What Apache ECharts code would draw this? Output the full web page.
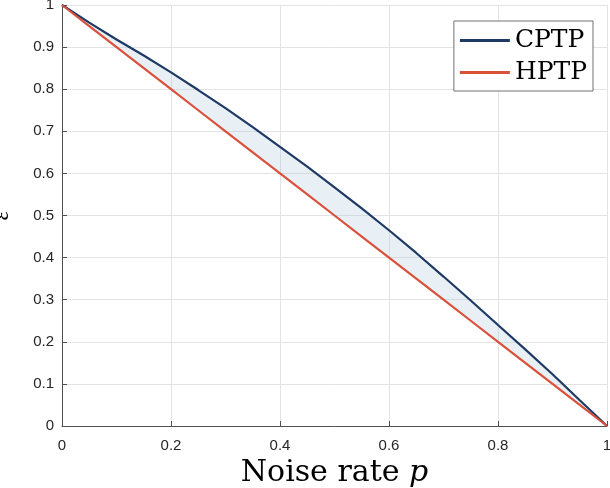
<!DOCTYPE html>
<html>
<head>
<meta charset="utf-8">
<script src="https://cdn.jsdelivr.net/npm/echarts@6/dist/echarts.min.js"></script>
<style>
html,body{margin:0;padding:0;background:#fff;}
#chart{width:610px;height:488px;}
</style>
</head>
<body>
<div id="chart"></div>
<script>
var pValues = [0, 0.05, 0.1, 0.15, 0.2, 0.25, 0.3, 0.35, 0.4, 0.45, 0.5, 0.55, 0.6, 0.65, 0.7, 0.75, 0.8, 0.85, 0.9, 0.95, 1];
var cptp = [1, 0.958, 0.918, 0.88, 0.84, 0.798, 0.755, 0.71, 0.663, 0.616, 0.567, 0.517, 0.465, 0.411, 0.355, 0.298, 0.24, 0.182, 0.123, 0.061, 0];
var hptp = [1, 0.95, 0.9, 0.85, 0.8, 0.75, 0.7, 0.65, 0.6, 0.55, 0.5, 0.45, 0.4, 0.35, 0.3, 0.25, 0.2, 0.15, 0.1, 0.05, 0];
var seriesNames = ['CPTP', 'HPTP'];
var xTitle = 'Noise rate ';
var xTitleVar = 'p';
var yTitle = 'ε';

function pairs(ys) { return pValues.map(function (p, i) { return [p, ys[i]]; }); }

var chart = echarts.init(document.getElementById('chart'));
var tickFont = { color: '#262626', fontFamily: 'Liberation Sans', fontSize: 15 };
chart.setOption({
  animation: false,
  grid: { left: 62, right: 3, top: 5, bottom: 62, containLabel: false, outerBoundsMode: 'none' },
  legend: {
    data: seriesNames,
    orient: 'vertical',
    right: 17, top: 21,
    icon: 'rect', itemWidth: 50, itemHeight: 3, itemGap: 7,
    padding: [7, 6, 6, 6],
    backgroundColor: '#fff',
    borderColor: '#707070', borderWidth: 1, borderRadius: 0,
    textStyle: { fontFamily: 'DejaVu Serif', fontSize: 25, color: '#000' }
  },
  xAxis: {
    type: 'value', min: 0, max: 1, interval: 0.2,
    name: xTitle + '{i|' + xTitleVar + '}',
    nameLocation: 'middle', nameGap: 31,
    nameTextStyle: {
      fontFamily: 'DejaVu Serif', fontSize: 30, color: '#000',
      rich: { i: { fontFamily: 'DejaVu Serif', fontStyle: 'italic', fontSize: 30, color: '#000' } }
    },
    axisLine: { lineStyle: { color: '#505050', width: 1 } },
    axisTick: { inside: true, length: 5, lineStyle: { color: '#505050' } },
    axisLabel: Object.assign({ margin: 12 }, tickFont),
    splitLine: { show: true, lineStyle: { color: '#e3e3e3', width: 1 } }
  },
  yAxis: {
    type: 'value', min: 0, max: 1, interval: 0.1,
    name: yTitle, nameLocation: 'middle', nameGap: 48, nameRotate: 90,
    nameTextStyle: { fontFamily: 'Liberation Serif', fontStyle: 'italic', fontSize: 24, color: '#000' },
    axisLine: { show: true, lineStyle: { color: '#505050', width: 1 } },
    axisTick: { show: true, inside: true, length: 5, lineStyle: { color: '#505050' } },
    axisLabel: Object.assign({ margin: 8 }, tickFont),
    splitLine: { show: true, lineStyle: { color: '#e3e3e3', width: 1 } }
  },
  series: [
    {
      name: 'band', type: 'custom', silent: true, z: 1,
      data: [0],
      renderItem: function (params, api) {
        var pts = [];
        for (var i = 0; i < pValues.length; i++) pts.push(api.coord([pValues[i], cptp[i]]));
        for (var j = pValues.length - 1; j >= 0; j--) pts.push(api.coord([pValues[j], hptp[j]]));
        return {
          type: 'polygon',
          shape: { points: pts, smooth: 0 },
          style: { fill: 'rgba(180,205,225,0.3)', stroke: null }
        };
      }
    },
    {
      name: 'CPTP', type: 'line', data: pairs(cptp),
      symbol: 'none', itemStyle: { color: '#1e3a64' },
      lineStyle: { color: '#1e3a64', width: 2.2 }, z: 3
    },
    {
      name: 'HPTP', type: 'line', data: pairs(hptp),
      symbol: 'none', itemStyle: { color: '#d9503b' },
      lineStyle: { color: '#d9503b', width: 2.2 }, z: 4
    }
  ]
});
</script>
</body>
</html>
